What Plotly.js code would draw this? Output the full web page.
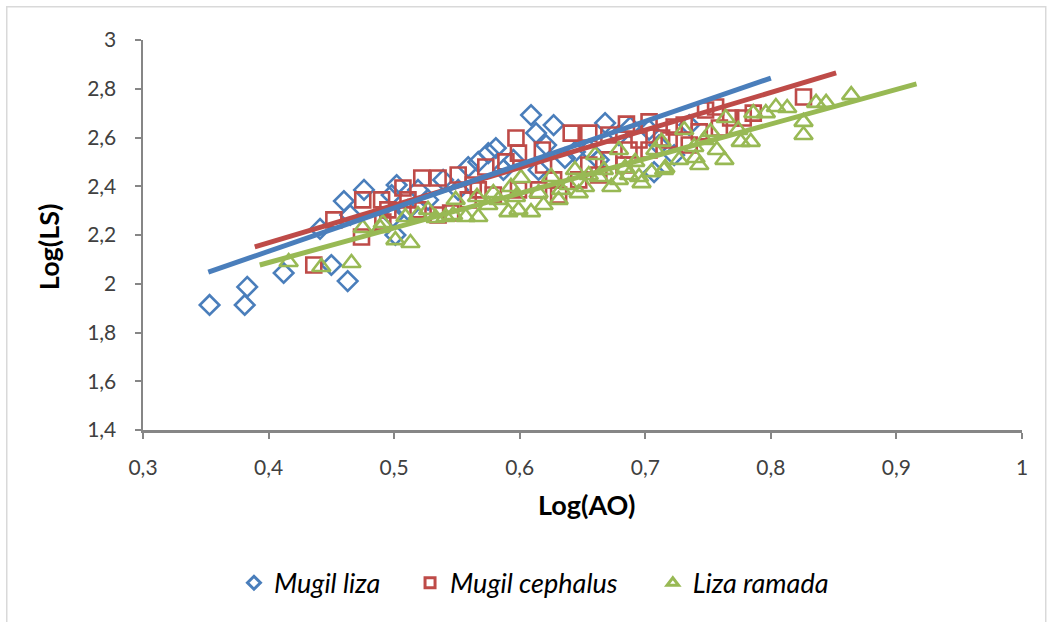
<!DOCTYPE html>
<html>
<head>
<meta charset="utf-8">
<script src="https://cdn.plot.ly/plotly-3.0.1.min.js"></script>
<style>html,body{margin:0;padding:0;background:#fff;}#chart{width:1054px;height:622px;}</style>
</head>
<body>
<div id="chart"></div>
<script>
// Mugil liza
var lizaX = [0.353,0.381,0.383,0.412,0.441,0.450,0.460,0.463,0.476,0.465,0.499,0.501,0.502,0.498,0.511,0.519,0.539,0.559,0.567,0.575,0.581,0.587,0.595,0.609,0.613,0.627,0.621,0.636,0.644,0.655,0.668,0.679,0.688,0.703,0.711,0.723,0.735,0.707,0.527,0.551,0.615,0.663];
var lizaY = [1.913,1.913,1.987,2.044,2.225,2.077,2.339,2.011,2.385,2.282,2.274,2.200,2.405,2.364,2.303,2.385,2.426,2.479,2.500,2.536,2.557,2.467,2.508,2.692,2.618,2.651,2.569,2.516,2.541,2.549,2.659,2.610,2.643,2.631,2.569,2.528,2.651,2.458,2.344,2.385,2.467,2.508];
// Mugil cephalus
var cephX = [0.436,0.452,0.474,0.475,0.490,0.491,0.507,0.522,0.535,0.551,0.573,0.589,0.597,0.599,0.618,0.641,0.655,0.671,0.685,0.703,0.723,0.713,0.748,0.756,0.768,0.826,0.519,0.535,0.545,0.559,0.567,0.579,0.599,0.615,0.627,0.631,0.647,0.663,0.671,0.683,0.687,0.703,0.719,0.735,0.743,0.759,0.778,0.786,0.511,0.495,0.563,0.619,0.655,0.695,0.731];
var cephY = [2.077,2.262,2.192,2.344,2.344,2.253,2.393,2.434,2.434,2.446,2.479,2.500,2.598,2.536,2.549,2.618,2.618,2.610,2.655,2.664,2.643,2.598,2.713,2.725,2.680,2.766,2.303,2.282,2.290,2.344,2.385,2.364,2.385,2.385,2.426,2.364,2.426,2.446,2.508,2.487,2.549,2.549,2.590,2.569,2.623,2.639,2.680,2.700,2.344,2.303,2.405,2.487,2.487,2.590,2.651];
// Liza ramada
var ramX = [0.416,0.442,0.466,0.475,0.489,0.491,0.501,0.513,0.509,0.519,0.533,0.541,0.549,0.557,0.566,0.567,0.579,0.593,0.597,0.601,0.599,0.609,0.615,0.625,0.633,0.644,0.647,0.660,0.663,0.652,0.673,0.679,0.684,0.692,0.695,0.705,0.708,0.713,0.716,0.731,0.739,0.740,0.752,0.757,0.763,0.764,0.776,0.784,0.786,0.796,0.804,0.813,0.826,0.826,0.836,0.844,0.864,0.715,0.527,0.547,0.575,0.583,0.591,0.619,0.631,0.639,0.655,0.667,0.679,0.697,0.687,0.743,0.727,0.747,0.774];
var ramY = [2.089,2.069,2.085,2.229,2.229,2.249,2.179,2.167,2.274,2.282,2.270,2.274,2.344,2.274,2.356,2.274,2.372,2.397,2.356,2.434,2.303,2.294,2.372,2.438,2.385,2.467,2.372,2.528,2.438,2.397,2.397,2.549,2.475,2.500,2.438,2.458,2.549,2.582,2.475,2.631,2.561,2.516,2.623,2.549,2.508,2.680,2.582,2.582,2.700,2.700,2.725,2.721,2.610,2.664,2.742,2.742,2.774,2.467,2.303,2.282,2.323,2.344,2.294,2.323,2.344,2.405,2.446,2.467,2.426,2.413,2.446,2.487,2.508,2.590,2.631];
// Trendline endpoints
var lizaTrendX = [0.352, 0.800], lizaTrendY = [2.048, 2.844];
var cephTrendX = [0.389, 0.852], cephTrendY = [2.151, 2.865];
var ramTrendX = [0.393, 0.916], ramTrendY = [2.077, 2.820];

var blue = '#4A7EBB', red = '#BE4B48', green = '#98B954';
var names = ['Mugil liza', 'Mugil cephalus', 'Liza ramada'];
var xTitle = 'Log(AO)', yTitle = 'Log(LS)';

function legendEntry(name, symbol, color, size, legendId) {
  return {x: [null], y: [null], mode: 'markers', type: 'scatter', name: name, legend: legendId,
          hoverinfo: 'skip', marker: {symbol: symbol, size: size, color: color, line: {width: 3, color: color}}};
}

var traces = [
  {x: lizaX, y: lizaY, mode: 'markers', type: 'scatter', name: names[0], showlegend: false,
   marker: {symbol: 'diamond-open', size: 15, color: blue, line: {width: 2.6, color: blue}}},
  {x: cephX, y: cephY, mode: 'markers', type: 'scatter', name: names[1], showlegend: false,
   marker: {symbol: 'square-open', size: 15, color: red, line: {width: 2.6, color: red}}},
  {x: ramX, y: ramY, mode: 'markers', type: 'scatter', name: names[2], showlegend: false,
   marker: {symbol: 'triangle-up-open', size: 16, color: green, line: {width: 2.6, color: green}}},
  {x: cephTrendX, y: cephTrendY, mode: 'lines', type: 'scatter', showlegend: false, hoverinfo: 'skip',
   line: {color: red, width: 5}},
  {x: ramTrendX, y: ramTrendY, mode: 'lines', type: 'scatter', showlegend: false, hoverinfo: 'skip',
   line: {color: green, width: 5}},
  {x: lizaTrendX, y: lizaTrendY, mode: 'lines', type: 'scatter', showlegend: false, hoverinfo: 'skip',
   line: {color: blue, width: 5}},
  legendEntry(names[0], 'diamond-open', blue, 10, 'legend'),
  legendEntry(names[1], 'square-open', red, 10, 'legend2'),
  legendEntry(names[2], 'triangle-up-open', green, 10, 'legend3')
];

var fam = 'Lato, "Open Sans", sans-serif';
var tickFont = {family: fam, size: 21, color: '#404040'};
var titleFont = {family: fam, size: 27, color: '#000', weight: 'bold'};
var legendFont = {family: fam, size: 27, color: '#000', style: 'italic'};
function mkLegend(xp) {
  return {orientation: 'h', x: xp, xanchor: 'left', y: -0.33, yanchor: 'top',
          font: legendFont, itemwidth: 30, bgcolor: 'rgba(0,0,0,0)'};
}
var layout = {
  width: 1054, height: 622,
  margin: {l: 143, r: 32, t: 40, b: 192},
  paper_bgcolor: '#ffffff', plot_bgcolor: '#ffffff',
  separators: ', ',
  showlegend: true,
  xaxis: {
    range: [0.3, 1], dtick: 0.1, tick0: 0.3, showgrid: false, zeroline: false,
    showline: true, linecolor: '#868686', linewidth: 2.5,
    ticks: 'outside', ticklen: 6, tickwidth: 2, tickcolor: '#868686',
    ticklabelstandoff: 11,
    tickfont: tickFont
  },
  yaxis: {
    range: [1.4, 3], dtick: 0.2, tick0: 1.4, showgrid: false, zeroline: false,
    showline: true, linecolor: '#868686', linewidth: 2.5,
    ticks: 'outside', ticklen: 6, tickwidth: 2, tickcolor: '#868686',
    ticklabelstandoff: 14,
    tickfont: tickFont
  },
  annotations: [
    {text: xTitle, xref: 'paper', yref: 'paper', x: 0.504, y: -0.192, xanchor: 'center', yanchor: 'middle',
     showarrow: false, font: titleFont},
    {text: yTitle, xref: 'paper', yref: 'paper', x: -0.108, y: 0.469, xanchor: 'center', yanchor: 'middle',
     textangle: -90, showarrow: false, font: titleFont}
  ],
  legend: mkLegend(0.1035),
  legend2: mkLegend(0.3038),
  legend3: mkLegend(0.580),
  shapes: [
    {type: 'rect', xref: 'paper', yref: 'paper', x0: -0.155, x1: 1.027, y0: -0.55, y1: 1.085,
     line: {color: '#d9d9d9', width: 1.5}, fillcolor: 'rgba(0,0,0,0)', layer: 'below'}
  ]
};

Plotly.newPlot('chart', traces, layout, {displayModeBar: false, staticPlot: true});
</script>
</body>
</html>
